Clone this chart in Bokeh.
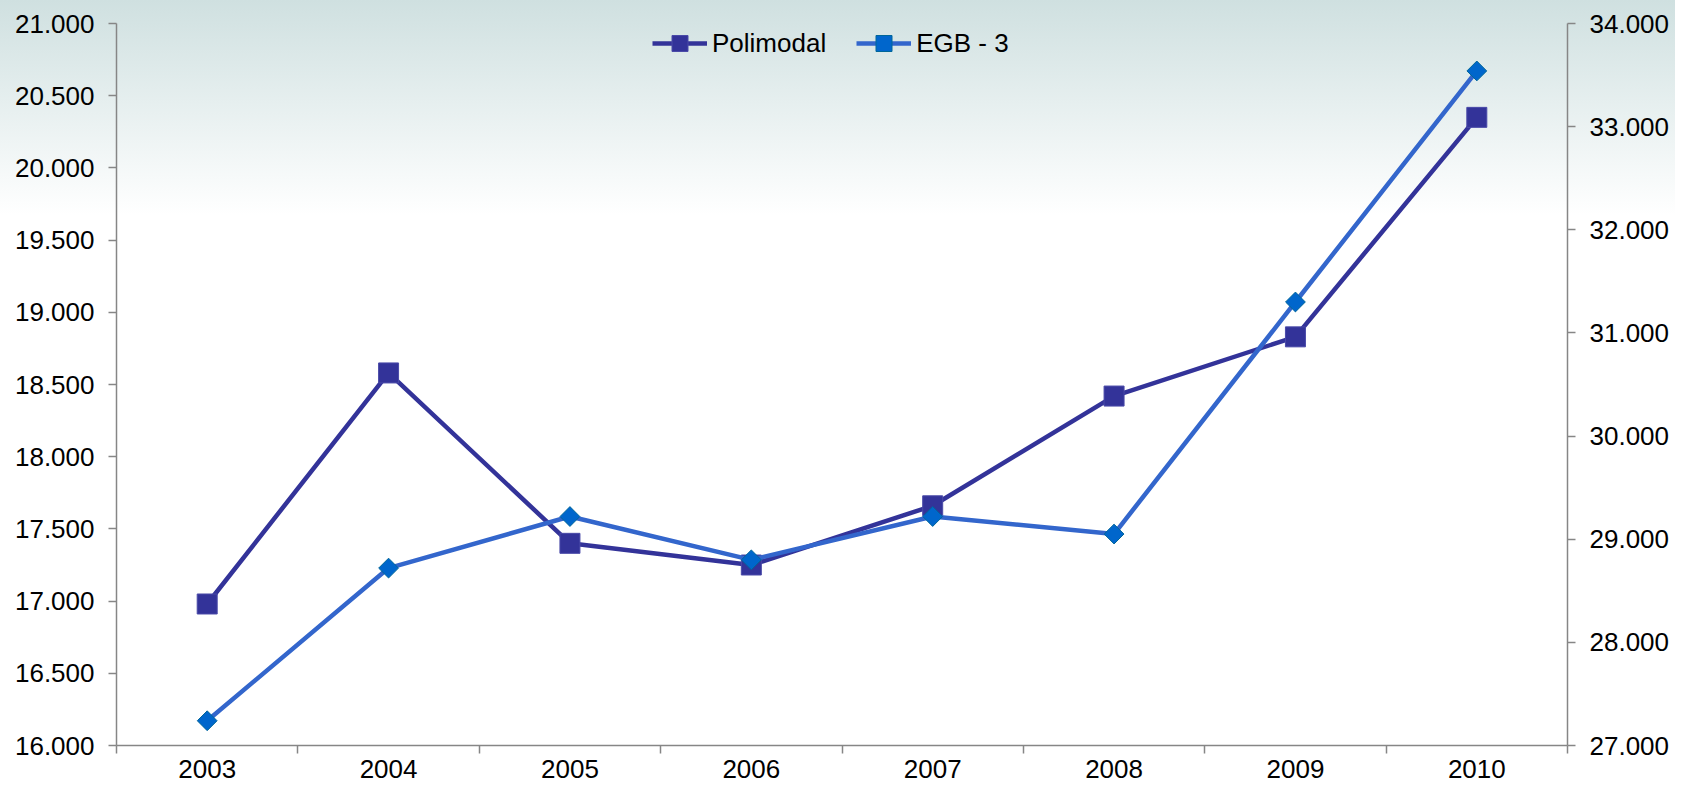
import math
from bokeh.plotting import figure
from bokeh.models import Range1d, LinearAxis, FixedTicker, Legend, LegendItem
from bokeh.embed import file_html
from bokeh.resources import INLINE

years = [2003, 2004, 2005, 2006, 2007, 2008, 2009, 2010]
polimodal = [16980, 18580, 17400, 17250, 17660, 18420, 18830, 20350]
egb3 = [27240, 28720, 29220, 28800, 29220, 29050, 31300, 33540]
left_ticks = [16000, 16500, 17000, 17500, 18000, 18500, 19000, 19500, 20000, 20500, 21000]
right_ticks = [27000, 28000, 29000, 30000, 31000, 32000, 33000, 34000]

FONT = "Liberation Sans"
AXIS_COL = "#868686"


def fmt(v):
    return f"{v:,}".replace(",", ".")


xs = [i + 0.5 for i in range(len(years))]

p = figure(width=1675, height=788, x_range=Range1d(0, len(years)),
           y_range=Range1d(left_ticks[0], left_ticks[-1]),
           output_backend="svg", toolbar_location=None,
           min_border_left=116, min_border_right=108, min_border_top=23, min_border_bottom=43)
p.styles = {"background": "linear-gradient(to bottom, #cfe0e0 0px, #ffffff 215px)"}
p.background_fill_color = None
p.border_fill_color = None
p.outline_line_color = None
p.xgrid.visible = False
p.ygrid.visible = False
p.extra_y_ranges = {"right": Range1d(right_ticks[0], right_ticks[-1])}

# x axis: labels at centers, tick marks at boundaries
xa = p.xaxis[0]
xa.ticker = FixedTicker(ticks=xs, minor_ticks=list(range(len(years) + 1)))
xa.major_label_overrides = {x: str(y) for x, y in zip(xs, years)}
xa.major_tick_line_color = None
xa.minor_tick_in = 0
xa.minor_tick_out = 8
xa.minor_tick_line_color = AXIS_COL
xa.minor_tick_line_width = 1.5

ya = p.yaxis[0]
ya.ticker = FixedTicker(ticks=left_ticks, minor_ticks=[])
ya.major_label_overrides = {t: fmt(t) for t in left_ticks}

ra = LinearAxis(y_range_name="right")
ra.ticker = FixedTicker(ticks=right_ticks, minor_ticks=[])
ra.major_label_overrides = {t: fmt(t) for t in right_ticks}
p.add_layout(ra, "right")

for ax in [xa, ya, ra]:
    ax.axis_line_color = AXIS_COL
    ax.axis_line_width = 1.5
    ax.major_label_text_font = FONT
    ax.major_label_text_font_size = "26px"
    ax.major_label_text_color = "#000000"
for ax in [ya, ra]:
    ax.major_tick_in = 0
    ax.major_tick_out = 8
    ax.major_tick_line_color = AXIS_COL
    ax.major_tick_line_width = 1.5
    ax.minor_tick_line_color = None
    ax.major_label_standoff = 14
xa.major_label_standoff = 6

l1 = p.line(xs, polimodal, line_color="#333399", line_width=4.5)
s1 = p.scatter(xs, polimodal, marker="square", size=20, fill_color="#333399", line_color="#4a4aa8", line_width=1)
l2 = p.line(xs, egb3, line_color="#3366cc", line_width=4.5, y_range_name="right")
s2 = p.scatter(xs, egb3, marker="square", angle=math.pi / 4, size=14, fill_color="#0066cc",
               line_color="#006699", line_width=1, y_range_name="right")

legend = Legend(items=[LegendItem(label="Polimodal", renderers=[l1, s1]),
                       LegendItem(label="EGB - 3", renderers=[l2, s2])],
                orientation="horizontal", location=(536, 682),
                glyph_width=55, glyph_height=40, label_standoff=5, spacing=30,
                padding=0, margin=0, border_line_color=None, background_fill_alpha=0,
                label_text_font=FONT, label_text_font_size="26px", label_text_color="#000000")
p.add_layout(legend)

open("out.html", "w").write(file_html(p, INLINE))
